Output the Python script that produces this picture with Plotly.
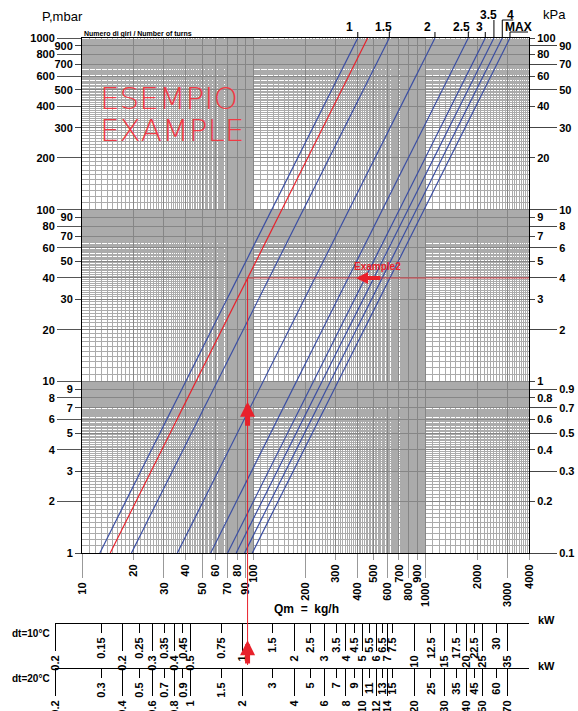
import math
import plotly.graph_objects as go

# ---------------- data ----------------
turn_labels = ["1", "1.5", "2", "2.5", "3", "3.5", "4", "MAX"]
q_at_1mbar = [12.7, 19.4, 35.9, 56.1, 70.4, 79.0, 88.4, 98.0]        # kg/h at P = 1 mbar
q_at_1000mbar = [403, 615, 1134, 1773, 2226, 2500, 2796, 3100]       # kg/h at P = 1000 mbar
p_ends = [1, 1000]                                                    # mbar
example_q_ends = [14.6, 460]                                          # red example curve
example_qm = 92                                                       # kg/h
example_p = 40                                                        # mbar
arrow_main_p = [5.4, 7.6]            # tail, tip (mbar) of the vertical red arrow
arrow_ex2_q = [557, 394]             # tail, tip (kg/h) of the "Example2" arrow
example2_text_pos = [528, 46.9]      # kg/h, mbar

left_near = [1, 3, 5, 7, 9, 30, 50, 70, 90, 300, 500, 700, 900]
left_far = [2, 4, 6, 8, 10, 20, 40, 60, 80, 100, 200, 400, 600, 800, 1000]
right_near = [0.2, 0.4, 0.6, 0.8, 1, 3, 5, 7, 9, 20, 40, 60, 80, 100]
right_far = [0.1, 0.3, 0.5, 0.7, 0.9, 2, 4, 6, 8, 10, 30, 50, 70, 90]
bottom_near = [20, 40, 60, 80, 100, 300, 500, 700, 900, 2000, 4000]
bottom_far = [10, 30, 50, 70, 90, 200, 400, 600, 800, 1000, 3000]

kw10_near = [0.15, 0.25, 0.35, 0.45, 0.75, 1.5, 2.5, 3.5, 4.5, 5.5, 6.5, 7.5, 12.5, 17.5, 22.5, 30]
kw10_far = [0.2, 0.3, 0.4, 0.5, 1, 2, 3, 4, 5, 6, 7, 10, 15, 20, 25, 35]
kw20_near = [0.3, 0.5, 0.7, 0.9, 1.5, 3, 5, 7, 9, 11, 13, 15, 25, 35, 45, 60]
kw20_far = [0.4, 0.6, 0.8, 1, 2, 4, 6, 8, 10, 12, 14, 20, 30, 40, 50, 70]
kw_start_label = "0.2"

# label leader geometry (pixel offsets from the top end of each line)
label_dx = [-8, -6, -7, -7, -6, -5, 8, 9]
label_row = [0, 0, 0, 0, 0, 1, 1, 0]
under_l = [-15, -13, -13, -14, -13, -12, 0, -2]
under_r = [0, 1, 0, 1, 0, 0, 11, 18]

# ---------------- layout helpers ----------------
W, H = 578, 711
def px(x): return x / W
def py(y): return 1 - y / H

X0, X1, Y0, Y1 = 82, 529, 38, 553
KW_L = 55
xr = [1.0, math.log10(4000)]
yr = [0, 3]
yr_kpa = [-1, 2]
dec_px = (X1 - X0) / (xr[1] - xr[0])

def fmt(v):
    return f"{v:g}"

def kw_range(dt):
    f = 4.186 * dt / 3600.0     # kW per kg/h of water
    hi = math.log10(4000 * f)
    lo = hi - (X1 - KW_L) / dec_px
    return [lo, hi]

BLUE = "#3a4ea3"
RED = "#e8212b"
TF = dict(family="Liberation Sans", size=11, color="black", weight="bold")

# grid values (axis styling)
def grid_vals(bases, top):
    major, minor = [], []
    for b in bases:
        for i in range(10, 100):
            v = i * b / 10
            if v > top + 1e-9:
                continue
            (major if i % 10 == 0 else minor).append(v)
    major.append(top)
    return major, minor

gx_major, gx_minor = grid_vals([10, 100, 1000], 4000)
gy_major, gy_minor = grid_vals([1, 10, 100], 1000)

fig = go.Figure()

for qa, qb in zip(q_at_1mbar, q_at_1000mbar):
    fig.add_trace(go.Scatter(x=[qa, qb], y=p_ends, mode="lines",
                             line=dict(color=BLUE, width=1.2), showlegend=False, hoverinfo="skip"))
fig.add_trace(go.Scatter(x=example_q_ends, y=p_ends, mode="lines",
                         line=dict(color=RED, width=1.2), showlegend=False, hoverinfo="skip"))
# example construction lines
fig.add_trace(go.Scatter(x=[example_qm, example_qm], y=[p_ends[0], example_p], mode="lines",
                         line=dict(color=RED, width=1), showlegend=False, hoverinfo="skip"))
fig.add_trace(go.Scatter(x=[example_qm, 4000], y=[example_p, example_p], mode="lines",
                         line=dict(color="rgba(232,33,43,0.75)", width=1), showlegend=False, hoverinfo="skip"))
fig.add_trace(go.Scatter(x=[example_qm, example_qm], y=[0, 1], mode="lines", xaxis="x8", yaxis="y8",
                         line=dict(color=RED, width=1), showlegend=False, hoverinfo="skip"))

# dummy traces to register overlay axes
for xa, ya in [("x2", "y"), ("x3", "y"), ("x", "y2"), ("x", "y3"), ("x", "y4"), ("x", "y5"),
               ("x4", "y6"), ("x5", "y6"), ("x6", "y7"), ("x7", "y7")]:
    fig.add_trace(go.Scatter(x=[None], y=[None], xaxis=xa, yaxis=ya, showlegend=False, hoverinfo="skip"))

common = dict(zeroline=False, fixedrange=True, showgrid=False, automargin=False)

def lab_axis(vals, ticklen, color, **kw):
    d = dict(tickmode="array", tickvals=vals, ticktext=[fmt(v) for v in vals],
             ticks="outside", ticklen=ticklen, tickcolor=color, tickwidth=1,
             tickfont=TF, showline=False, **common)
    d.update(kw)
    return d

GRID_MAJ = "#868686"
GRID_MIN = "#ababab"

layout = dict(
    width=W, height=H, margin=dict(l=0, r=0, t=0, b=0, pad=0, autoexpand=False),
    paper_bgcolor="white", plot_bgcolor="rgba(0,0,0,0)", showlegend=False,
    xaxis=dict(type="log", range=xr, domain=[px(X0), px(X1)], anchor="y",
               tickmode="array", tickvals=gx_major, showticklabels=False, ticks="",
               showgrid=True, gridcolor=GRID_MAJ, gridwidth=1,
               minor=dict(tickmode="array", tickvals=gx_minor, showgrid=True,
                          gridcolor=GRID_MIN, gridwidth=1, ticks=""),
               showline=True, linecolor="black", linewidth=1, mirror=True,
               zeroline=False, fixedrange=True, automargin=False),
    yaxis=dict(type="log", range=yr, domain=[py(Y1), py(Y0)], anchor="x",
               tickmode="array", tickvals=gy_major, showticklabels=False, ticks="",
               showgrid=True, gridcolor=GRID_MAJ, gridwidth=1,
               minor=dict(tickmode="array", tickvals=gy_minor, showgrid=True,
                          gridcolor=GRID_MIN, gridwidth=1, ticks=""),
               showline=True, linecolor="black", linewidth=1, mirror=True,
               zeroline=False, fixedrange=True, automargin=False),
    xaxis2=lab_axis(bottom_near, 6, "#999", type="log", range=xr, overlaying="x",
                    anchor="y", side="bottom", tickangle=-90),
    xaxis3=lab_axis(bottom_far, 24, "#999", type="log", range=xr, overlaying="x",
                    anchor="y", side="bottom", tickangle=-90),
    yaxis2=lab_axis(left_near, 6, "#444", type="log", range=yr, overlaying="y",
                    anchor="x", side="left"),
    yaxis3=lab_axis(left_far, 24, "#555", type="log", range=yr, overlaying="y",
                    anchor="x", side="left"),
    yaxis4=lab_axis(right_near, 5, "#444", type="log", range=yr_kpa, overlaying="y",
                    anchor="x", side="right"),
    yaxis5=lab_axis(right_far, 27, "#444", type="log", range=yr_kpa, overlaying="y",
                    anchor="x", side="right"),
    yaxis6=dict(domain=[py(623), py(614)], range=[0, 1], visible=False, fixedrange=True),
    yaxis7=dict(domain=[py(668), py(660)], range=[0, 1], visible=False, fixedrange=True),
    yaxis8=dict(domain=[py(665), py(553)], range=[0, 1], visible=False, fixedrange=True),
    xaxis8=dict(type="log", range=xr, domain=[px(X0), px(X1)], anchor="y8", visible=False,
                fixedrange=True),
)

for (xn, xf, ya, dt, near, far) in [("xaxis4", "xaxis5", "y6", 10, kw10_near, kw10_far),
                                     ("xaxis6", "xaxis7", "y7", 20, kw20_near, kw20_far)]:
    rng = kw_range(dt)
    start = 10 ** (rng[0] + 1e-6)
    base_id = "x" + xn[5:]
    layout[xn] = lab_axis(near, 9, "black", type="log", range=rng, domain=[px(KW_L), px(X1)],
                          anchor=ya, side="bottom", tickangle=-90,
                          showline=True, linecolor="black", linewidth=1)
    fd = lab_axis(far, 27, "black", type="log", range=rng, overlaying=base_id,
                  anchor=ya, side="bottom", tickangle=-90)
    fd["tickvals"] = [start] + far
    fd["ticktext"] = [kw_start_label] + [fmt(v) for v in far]
    layout[xf] = fd

fig.update_layout(**layout)

ann = []
shapes = []
# turn-count labels with leaders
for i, lab in enumerate(turn_labels):
    qt = q_at_1000mbar[i]
    ty, uy = (27, 32) if label_row[i] == 0 else (15, 20)
    ann.append(dict(text=lab, xref="x", yref="paper", x=math.log10(qt), xshift=label_dx[i],
                    y=py(ty), showarrow=False, xanchor="center", yanchor="middle",
                    font=dict(family="Liberation Sans", size=12, color="black", weight="bold")))
    shapes.append(dict(type="line", xref="x", yref="paper", x0=qt, x1=qt, y0=py(Y0), y1=py(uy),
                       line=dict(color="black", width=1)))
    shapes.append(dict(type="line", xref="x", yref="paper", xsizemode="pixel", xanchor=qt,
                       x0=under_l[i], x1=under_r[i], y0=py(uy), y1=py(uy),
                       line=dict(color="black", width=1)))

# arrows
arrow_style = dict(showarrow=True, arrowhead=2, arrowsize=0.6, arrowwidth=5, arrowcolor=RED,
                   text="", standoff=0)
ann.append(dict(xref="x", yref="y", axref="x", ayref="y",
                x=math.log10(example_qm), y=math.log10(arrow_main_p[1]),
                ax=math.log10(example_qm), ay=math.log10(arrow_main_p[0]), **arrow_style))
ann.append(dict(xref="x", yref="y", axref="x", ayref="y",
                x=math.log10(arrow_ex2_q[1]), y=math.log10(example_p),
                ax=math.log10(arrow_ex2_q[0]), ay=math.log10(example_p),
                **{**arrow_style, "arrowwidth": 4}))
ann.append(dict(xref="x8", yref="y8", axref="x8", ayref="y8",
                x=math.log10(example_qm), y=0.22, ax=math.log10(example_qm), ay=0.0, **arrow_style))
ann.append(dict(text="Example2", xref="x", yref="y", x=math.log10(example2_text_pos[0]),
                y=math.log10(example2_text_pos[1]), showarrow=False,
                font=dict(family="Liberation Sans", size=10, color=RED, weight="bold")))

# big watermark text
for t, yy in [("ESEMPIO", 98), ("EXAMPLE", 130)]:
    ann.append(dict(text=t, xref="paper", yref="paper", x=px(98), y=py(yy), xanchor="left",
                    yanchor="middle", showarrow=False,
                    font=dict(family="DejaVu Sans", size=31, color="#f03a44", weight=200)))

def txt(t, x, y, size=11, weight="bold", xanchor="center", family="Liberation Sans"):
    ann.append(dict(text=t, xref="paper", yref="paper", x=px(x), y=py(y), xanchor=xanchor,
                    yanchor="middle", showarrow=False,
                    font=dict(family=family, size=size, color="black", weight=weight)))

txt("P,mbar", 62, 17, size=13, weight="normal")
txt("kPa", 554, 15, size=13, weight="normal")
txt("Numero di giri / Number of turns", 82, 34, size=7, xanchor="left")
txt("Qm\u00a0\u00a0=\u00a0\u00a0kg/h", 306, 609, size=12)
txt("dt=10°C", 31, 633, size=10)
txt("dt=20°C", 31, 678, size=10)
txt("kW", 546, 620, size=11)
txt("kW", 546, 666, size=11)

fig.update_layout(annotations=ann, shapes=shapes)
fig.write_html("out.html", config={"displayModeBar": False, "staticPlot": True},
               post_script="document.body.style.margin='0px';document.body.style.overflow='hidden';")
